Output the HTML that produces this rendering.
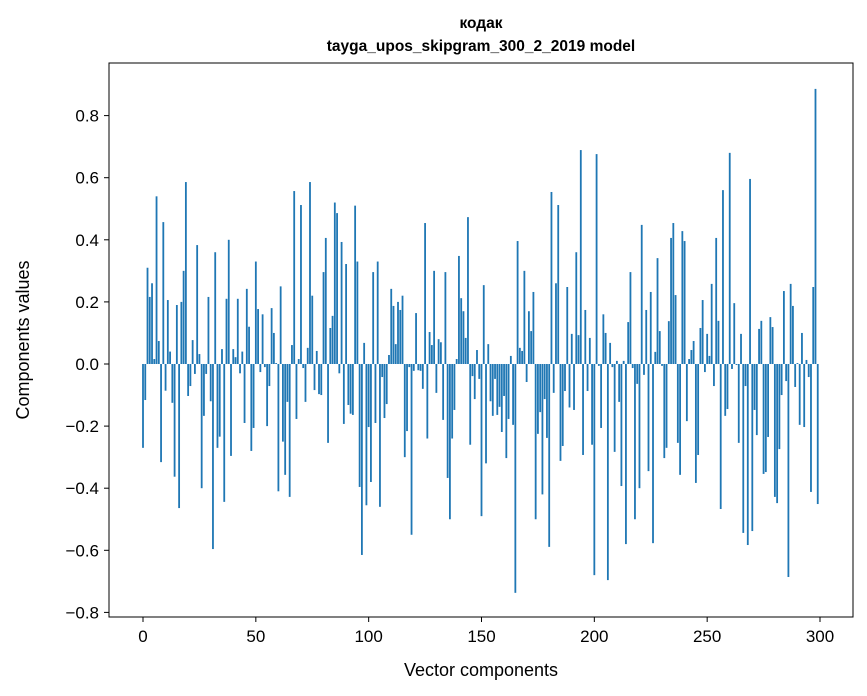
<!DOCTYPE html>
<html><head><meta charset="utf-8"><style>
body{margin:0;background:#fff;}
svg{display:block;font-family:"Liberation Sans","DejaVu Sans",sans-serif;}
</style></head><body>
<svg id="chart" width="867" height="696" viewBox="0 0 867 696" xmlns="http://www.w3.org/2000/svg">
<rect x="0" y="0" width="867" height="696" fill="#fff"/>
<text x="481" y="28" text-anchor="middle" font-size="15.5" font-weight="bold">кодак</text>
<text x="481" y="51" text-anchor="middle" font-size="15.5" font-weight="bold">tayga_upos_skipgram_300_2_2019 model</text>
<g id="bars"></g>
<g id="xticks"></g>
<g id="yticks"></g>
<rect x="109" y="63" width="744" height="554" fill="none" stroke="#000" stroke-width="1"/>
<text x="481" y="676" text-anchor="middle" font-size="18">Vector components</text>
<text transform="translate(29,340) rotate(-90)" text-anchor="middle" font-size="18">Components values</text>
</svg>
<script>
const values = [
-0.27,-0.116,0.31,0.216,0.26,0.016,0.54,0.074,-0.316,0.457,
-0.086,0.206,0.04,-0.125,-0.363,0.19,-0.464,0.2,0.3,0.586,
-0.103,-0.071,0.077,-0.032,0.383,0.032,-0.4,-0.167,-0.032,0.216,
-0.12,-0.596,0.36,-0.27,-0.234,0.048,-0.444,0.21,0.4,-0.296,
0.048,0.022,0.21,-0.03,0.04,-0.19,0.242,0.12,-0.28,-0.206,
0.33,0.177,-0.026,0.16,-0.01,-0.2,-0.071,0.18,0.1,0.003,
-0.41,0.25,-0.25,-0.357,-0.122,-0.428,0.061,0.557,-0.177,0.016,
0.512,-0.013,-0.122,0.052,0.586,0.22,-0.084,0.042,-0.097,-0.1,
0.296,0.406,-0.254,0.116,0.155,0.52,0.486,-0.03,0.393,-0.193,
0.322,-0.132,-0.16,-0.164,0.51,0.33,-0.396,-0.615,0.068,-0.455,
-0.203,-0.38,0.296,-0.19,0.33,-0.46,-0.042,-0.174,-0.129,0.029,
0.242,0.187,0.064,0.2,0.174,0.22,-0.3,-0.216,-0.01,-0.55,
-0.022,0.164,-0.02,-0.022,-0.08,0.454,-0.24,0.103,0.061,0.3,
-0.093,0.08,0.07,-0.18,0.296,-0.367,-0.5,-0.24,-0.148,0.016,
0.348,0.212,0.17,0.084,0.473,-0.26,-0.039,-0.113,0.045,-0.048,
-0.49,0.254,-0.32,0.064,-0.12,-0.167,-0.048,-0.164,-0.138,-0.219,
-0.103,-0.303,-0.177,0.026,-0.196,-0.737,0.396,0.052,0.042,0.3,
-0.058,0.17,0.106,0.232,-0.5,-0.225,-0.155,-0.42,-0.113,-0.238,
-0.589,0.554,-0.093,0.26,0.512,-0.312,-0.264,-0.087,0.248,-0.14,
0.097,-0.148,0.36,0.093,0.689,-0.293,0.174,-0.087,0.084,-0.26,
-0.68,0.676,-0.006,-0.206,0.16,0.1,-0.696,0.068,-0.01,-0.283,
0.01,-0.122,-0.393,0.01,-0.58,0.135,0.296,-0.013,-0.5,-0.064,
-0.4,0.448,-0.035,0.174,-0.345,0.232,-0.577,0.039,0.341,0.106,
-0.006,-0.303,-0.27,0.138,0.406,0.454,0.222,-0.254,-0.357,0.428,
0.396,-0.184,0.016,0.045,0.074,-0.383,-0.293,0.116,0.206,-0.026,
0.097,0.026,0.258,-0.071,0.406,0.139,-0.467,0.56,-0.167,-0.145,
0.68,-0.016,0.196,-0.003,-0.254,0.097,-0.544,-0.071,-0.583,0.596,
-0.538,-0.148,-0.229,0.113,0.139,-0.354,-0.348,-0.235,0.151,0.119,
-0.428,-0.448,-0.274,-0.1,0.235,-0.055,-0.686,0.258,0.187,-0.074,
0.003,-0.196,0.1,-0.203,0.013,-0.042,-0.412,0.248,0.886,-0.451
];
const xTickValues = [0,50,100,150,200,250,300];
const yTickValues = [-0.8,-0.6,-0.4,-0.2,0.0,0.2,0.4,0.6,0.8];
const yTickLabels = ["−0.8","−0.6","−0.4","−0.2","0.0","0.2","0.4","0.6","0.8"];

const NS="http://www.w3.org/2000/svg";
function xs(v){return 143 + v*(820-143)/300;}
function ys(v){return 364 - v*310.5;}
const bw = 0.8*(820-143)/300;
const barsG=document.getElementById('bars');
values.forEach((v,i)=>{
  const r=document.createElementNS(NS,'rect');
  const y0=ys(0), y1=ys(v);
  r.setAttribute('x',xs(i)-bw/2);
  r.setAttribute('y',Math.min(y0,y1));
  r.setAttribute('width',bw);
  r.setAttribute('height',Math.abs(y1-y0));
  r.setAttribute('fill','#1f77b4');
  
  
  barsG.appendChild(r);
});
const xg=document.getElementById('xticks');
xTickValues.forEach(t=>{
  const l=document.createElementNS(NS,'line');
  l.setAttribute('x1',xs(t));l.setAttribute('x2',xs(t));
  l.setAttribute('y1',617);l.setAttribute('y2',622);
  l.setAttribute('stroke','#000');
  
  
  xg.appendChild(l);
  const tx=document.createElementNS(NS,'text');
  tx.setAttribute('x',xs(t));tx.setAttribute('y',642);
  tx.setAttribute('text-anchor','middle');tx.setAttribute('font-size','17');
  tx.textContent=t;
  
  
  xg.appendChild(tx);
});
const yg=document.getElementById('yticks');
yTickValues.forEach((t,i)=>{
  const l=document.createElementNS(NS,'line');
  l.setAttribute('x1',104);l.setAttribute('x2',109);
  l.setAttribute('y1',ys(t));l.setAttribute('y2',ys(t));
  l.setAttribute('stroke','#000');
  
  
  yg.appendChild(l);
  const tx=document.createElementNS(NS,'text');
  tx.setAttribute('x',99);tx.setAttribute('y',ys(t)+6);
  tx.setAttribute('text-anchor','end');tx.setAttribute('font-size','17');
  tx.textContent=yTickLabels[i];
  
  
  yg.appendChild(tx);
});
</script>
</body></html>
